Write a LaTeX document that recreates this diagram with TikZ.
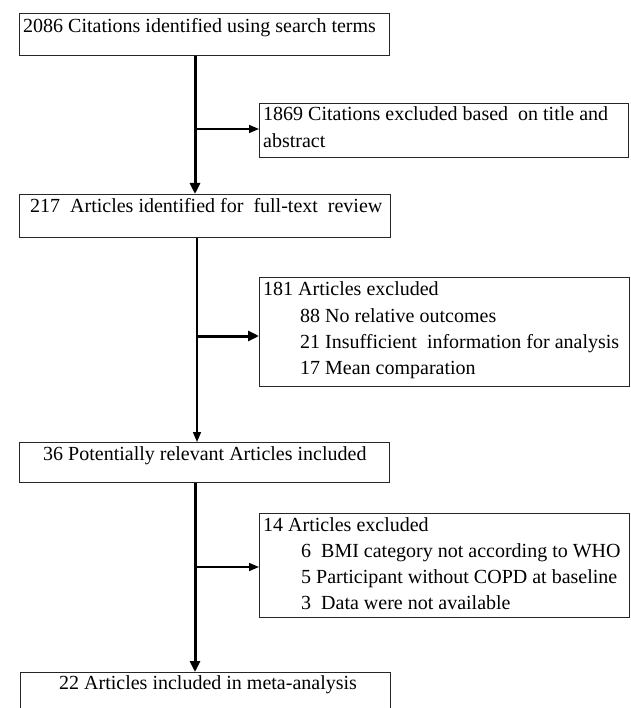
\documentclass[tikz,border=0pt]{standalone}
\usepackage{fontspec}
\setmainfont{Liberation Serif}
\usetikzlibrary{arrows.meta}
\begin{document}
\begin{tikzpicture}[x=1pt,y=-1pt,
  box/.style={draw=black!85, line width=0.9pt, rectangle, inner sep=0pt, anchor=north west},
  txt/.style={anchor=base west, inner sep=0pt, font=\fontsize{20}{26}\selectfont},
  bigarrow/.style={line width=3pt, -{Triangle[length=11pt,width=10pt]}},
  thinarrow/.style={line width=1.5pt, -{Triangle[length=10pt,width=8pt]}}]
\useasboundingbox (0,0) rectangle (630,708);
\fill[white] (0,0) rectangle (630,708);
% boxes
\node[box, minimum width=370, minimum height=42] (b1) at (19,13) {};
\node[box, minimum width=369, minimum height=54] (e1) at (259,103) {};
\node[box, minimum width=371, minimum height=43] (b2) at (19,194) {};
\node[box, minimum width=370, minimum height=109] (e2) at (259,277) {};
\node[box, minimum width=370, minimum height=40] (b3) at (19,442) {};
\node[box, minimum width=370, minimum height=104] (e3) at (259,513) {};
\node[box, minimum width=370, minimum height=60] (b4) at (20,672) {};
% texts
\node[txt] (t1) at (23,33) {2086 Citations identified using search terms};
\node[txt] (t1a) at (263,121) {1869 Citations excluded based\ \ on title and};
\node[txt] (t1b) at (263,148) {abstract};
\node[txt] (t2) at (30,213) {217\ \ Articles identified for\ \ full-text\ \ review};
\node[txt] (t2a) at (263,295) {181 Articles excluded};
\node[txt] (t2b) at (300,322) {88 No relative outcomes};
\node[txt] (t2c) at (300,348) {21 Insufficient\ \ information for analysis};
\node[txt] (t2d) at (300,374) {17 Mean comparation};
\node[txt] (t3) at (43,460) {36 Potentially relevant Articles included};
\node[txt] (t3a) at (263,531) {14 Articles excluded};
\node[txt] (t3b) at (301,557) {6\ \ BMI category not according to WHO};
\node[txt] (t3c) at (301,583) {5 Participant without COPD at baseline};
\node[txt] (t3d) at (301,609) {3\ \ Data were not available};
\node[txt] (t4) at (59,689) {22 Articles included in meta-analysis};
% junctions
\coordinate (j1) at (195,129);
\coordinate (j2) at (197,336);
\coordinate (j3) at (195,567);
% connectors
\draw[bigarrow] (b1.south -| j1) -- (b2.north -| j1);
\draw[thinarrow] (j1) -- (e1.west |- j1);
\draw[thinarrow] (b2.south -| j2) -- (b3.north -| j2);
\draw[bigarrow] (j2) -- (e2.west |- j2);
\draw[bigarrow] (b3.south -| j3) -- (b4.north -| j3);
\draw[thinarrow] (j3) -- (e3.west |- j3);
\end{tikzpicture}
\end{document}
